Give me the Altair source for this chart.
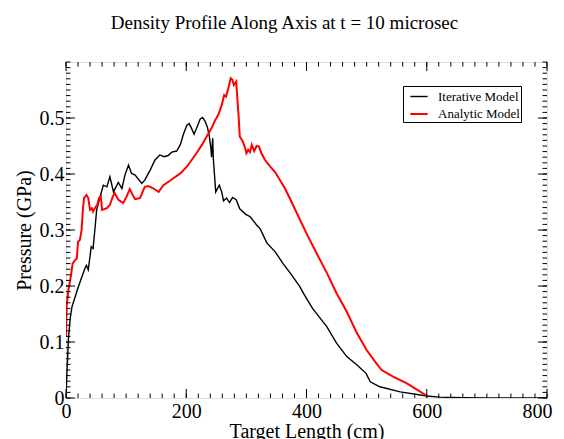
import altair as alt
import pandas as pd

iter_x = [0, 1, 2, 4, 7, 10, 15, 20, 26, 32, 34, 37, 42, 45, 48, 51, 57, 62, 68, 73, 79, 87, 93, 98,
          104, 109, 115, 126, 131, 140, 148, 156, 163, 170, 176, 184, 190, 195, 201, 205, 209, 213,
          218, 223, 227, 231, 235, 238, 241, 242, 244, 245, 247, 249, 255, 259, 262, 267, 272, 277,
          283, 289, 299, 306, 317, 323, 334, 348, 361, 373, 389, 395, 410, 434, 450, 467, 484, 499,
          506, 522, 556, 600, 622, 660, 700, 800]
iter_y = [0.0, 0.03, 0.056, 0.105, 0.142, 0.163, 0.18, 0.197, 0.215, 0.233, 0.237, 0.229, 0.27,
          0.267, 0.3, 0.336, 0.36, 0.38, 0.377, 0.395, 0.368, 0.385, 0.374, 0.398, 0.416, 0.401,
          0.398, 0.383, 0.389, 0.407, 0.425, 0.434, 0.431, 0.433, 0.439, 0.441, 0.452, 0.47, 0.487,
          0.49, 0.481, 0.471, 0.484, 0.498, 0.501, 0.495, 0.484, 0.47, 0.446, 0.43, 0.464, 0.428,
          0.398, 0.368, 0.38, 0.368, 0.352, 0.357, 0.349, 0.358, 0.354, 0.338, 0.328, 0.324, 0.309,
          0.302, 0.277, 0.261, 0.24, 0.223, 0.199, 0.187, 0.16, 0.127, 0.098, 0.074, 0.059, 0.044,
          0.029, 0.02, 0.011, 0.0036, 0.0015, 0.0007, 0.0003, 0.0]

anal_x = [0, 1, 4, 8, 11, 15, 18, 19, 20, 23, 26, 28, 30, 34, 37, 40, 43, 45, 48, 52, 55, 58, 60,
          68, 73, 78, 81, 87, 95, 101, 106, 111, 115, 123, 131, 137, 145, 154, 162, 173, 178, 190,
          201, 209, 217, 226, 234, 242, 248, 253, 259, 263, 266, 270, 274, 277, 279, 283, 285, 287,
          289, 294, 298, 300, 303, 306, 309, 313, 317, 321, 325, 331, 339, 348, 356, 364, 373, 384,
          400, 417, 434, 450, 467, 484, 500, 514, 525, 544, 567, 583, 600]
anal_y = [0.11, 0.163, 0.193, 0.217, 0.24, 0.246, 0.249, 0.264, 0.279, 0.282, 0.3, 0.336, 0.357,
          0.3625, 0.357, 0.336, 0.339, 0.333, 0.339, 0.345, 0.357, 0.36, 0.336, 0.339, 0.345, 0.36,
          0.366, 0.354, 0.348, 0.36, 0.373, 0.3625, 0.355, 0.357, 0.377, 0.3786, 0.3745, 0.368,
          0.38, 0.388, 0.392, 0.401, 0.413, 0.425, 0.437, 0.452, 0.467, 0.4816, 0.496, 0.505, 0.523,
          0.541, 0.538, 0.553, 0.571, 0.568, 0.559, 0.565, 0.535, 0.505, 0.467, 0.458, 0.446,
          0.437, 0.443, 0.439, 0.452, 0.441, 0.45, 0.449, 0.437, 0.425, 0.414, 0.403, 0.389,
          0.3745, 0.355, 0.33, 0.294, 0.258, 0.223, 0.187, 0.154, 0.1155, 0.0857, 0.065, 0.05,
          0.038, 0.026, 0.0155, 0.004]

series_names = ["Iterative Model", "Analytic Model"]
series_colors = ["black", "red"]
series_widths = [1.4, 2.0]

x_major = [0, 200, 400, 600, 800]
x_minor = [v for v in range(0, 801, 20)]
y_major = [0, 0.1, 0.2, 0.3, 0.4, 0.5]
y_minor = [round(i * 0.01, 2) for i in range(0, 61)]

W, H = 481, 336
FONT = "Liberation Serif"

df = pd.concat([
    pd.DataFrame({"x": iter_x, "y": iter_y, "series": series_names[0]}),
    pd.DataFrame({"x": anal_x, "y": anal_y, "series": series_names[1]}),
])

xscale = alt.Scale(domain=[0, 800], nice=False, zero=False)
yscale = alt.Scale(domain=[0, 0.6], nice=False, zero=False)

xaxis = alt.Axis(values=x_major, title="Target Length (cm)", ticks=False, domain=False,
                 grid=False, labelFont=FONT, labelFontSize=20, labelPadding=3,
                 labelFlush=True, labelFlushOffset=5, labelColor="black", titleFont=FONT,
                 titleFontSize=20, titleFontWeight="normal", titlePadding=0, titleColor="black")
yaxis = alt.Axis(values=y_major, title="Pressure (GPa)", ticks=False, domain=False,
                 grid=False, labelFont=FONT, labelFontSize=20, labelPadding=2,
                 labelFlush=False, labelColor="black",
                 labelExpr="datum.value == 0 ? '0' : format(datum.value, '.1f')",
                 titleFont=FONT, titleFontSize=20, titleFontWeight="normal",
                 titlePadding=5, titleColor="black")

lines = alt.Chart(df).mark_line(clip=True).encode(
    x=alt.X("x:Q", scale=xscale, axis=xaxis),
    y=alt.Y("y:Q", scale=yscale, axis=yaxis),
    color=alt.Color("series:N", sort=series_names,
                    scale=alt.Scale(domain=series_names, range=series_colors),
                    legend=alt.Legend(title=None, orient="none", legendX=337, legendY=24,
                                      symbolType="stroke", symbolSize=300, symbolStrokeWidth=2,
                                      labelFont=FONT, labelFontSize=13, labelOffset=9,
                                      symbolOffset=5, rowPadding=0, padding=1,
                                      strokeColor="black", fillColor="white", labelColor="black")),
    strokeWidth=alt.StrokeWidth("series:N", scale=alt.Scale(domain=series_names, range=series_widths),
                                legend=None),
)


def xticks(values, length, top):
    d = pd.DataFrame({"x": values})
    if top:
        yv, y2v = alt.value(0), alt.value(length)
    else:
        yv, y2v = alt.value(H), alt.value(H - length)
    return alt.Chart(d).mark_rule(color="black", strokeWidth=1).encode(
        x=alt.X("x:Q", scale=xscale, axis=xaxis), y=yv, y2=y2v)


def yticks(values, length, right):
    d = pd.DataFrame({"y": values})
    if right:
        xv, x2v = alt.value(W), alt.value(W - length)
    else:
        xv, x2v = alt.value(0), alt.value(length)
    return alt.Chart(d).mark_rule(color="black", strokeWidth=1).encode(
        y=alt.Y("y:Q", scale=yscale, axis=yaxis), x=xv, x2=x2v)


layers = [
    xticks(x_minor, 4.5, False), xticks(x_minor, 4.5, True),
    xticks(x_major, 9, False), xticks(x_major, 9, True),
    yticks(y_minor, 4.5, False), yticks(y_minor, 4.5, True),
    yticks(y_major, 9, False), yticks(y_major, 9, True),
]

chart = alt.layer(lines, *layers).properties(
    width=W, height=H,
    autosize=alt.AutoSizeParams(type="none"),
    padding={"left": 58, "top": 54, "right": 9, "bottom": 41},
    title=alt.Title("Density Profile Along Axis at t = 10 microsec", font=FONT, fontSize=19,
                    fontWeight="normal", color="black", anchor="middle", dx=-22, offset=14,
                    baseline="alphabetic"),
).configure_view(stroke="black", strokeWidth=2).configure(background="white")

chart.save("out.html", embed_options={"renderer": "svg", "actions": False})
